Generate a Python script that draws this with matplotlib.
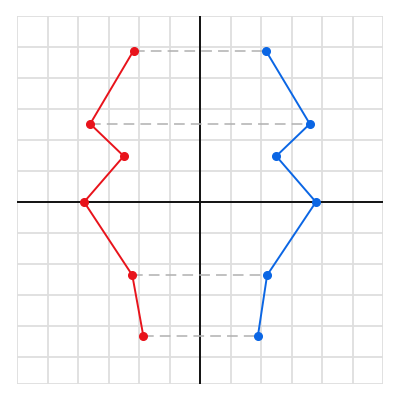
import numpy as np
import matplotlib.pyplot as plt

# y levels of the outline points (grid units)
y_levels = [4.88, 2.52, 1.48, 0.0, -2.36, -4.31]
left_x = [-2.18, -3.6, -2.5, -3.8, -2.22, -1.86]
right_x = [2.16, 3.6, 2.5, 3.8, 2.2, 1.9]
# rows joined by a dashed guide
linked_rows = [0, 1, 4, 5]

red = "#e8131b"
blue = "#0b66e4"

fig = plt.figure(figsize=(4, 4), dpi=100)
ax = fig.add_axes([17 / 400, 16 / 400, 366 / 400, 368 / 400])

ax.set_xlim(-6, 6)
ax.set_ylim(-5.87, 6)
ax.set_xticks(np.arange(-6, 7, 1))
ax.set_yticks(np.arange(-5, 7, 1))
ax.grid(True, color="#dedede", linewidth=1.3)
ax.tick_params(length=0, labelbottom=False, labelleft=False)
for s in ax.spines.values():
    s.set_visible(False)
ax.axhline(-5.87, color="#dedede", linewidth=1.3, zorder=0.5)
ax.set_axisbelow(True)

ax.axhline(0, color="#111111", linewidth=1.4, zorder=2)
ax.axvline(0, color="#111111", linewidth=1.4, zorder=2)

for i in linked_rows:
    ax.plot([left_x[i], right_x[i]], [y_levels[i], y_levels[i]],
            color="#b0b0b0", linewidth=1.1, dashes=(7, 4), zorder=3)

ax.plot(left_x, y_levels, color=red, linewidth=1.4, marker="o",
        markersize=5.5, zorder=4)
ax.plot(right_x, y_levels, color=blue, linewidth=1.4, marker="o",
        markersize=5.5, zorder=4)

fig.savefig("out.png", dpi=100, facecolor="white")
